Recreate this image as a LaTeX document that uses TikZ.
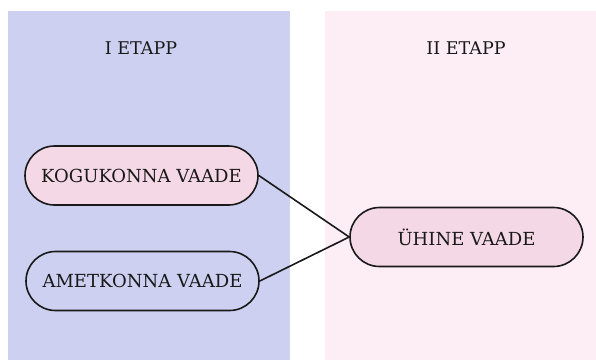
\documentclass[tikz,border=0pt]{standalone}
\usepackage{fontspec}
\setmainfont{DejaVu Serif}
\definecolor{lav}{HTML}{CDD0F0}
\definecolor{blush}{HTML}{FDEEF5}
\definecolor{pinkfill}{HTML}{F5D8E6}
\tikzset{
  title/.style={font=\fontsize{17.5}{20}\selectfont, text=black!90},
  pill/.style={draw=black!90, line width=1.6pt, rounded corners=29.5pt, minimum width=233pt, minimum height=59pt, inner sep=0pt, font=\fontsize{18}{21}\selectfont, text=black!90},
  link/.style={line width=1.6pt, draw=black!90}
}
\begin{document}
\begin{tikzpicture}[x=1pt,y=-1pt]
\useasboundingbox (0,0) rectangle (596,360);
\fill[white] (0,0) rectangle (596,360);
\fill[lav] (8,11) rectangle (290,360);
\fill[blush] (325,11) rectangle (596,360);
\node[title] (t1) at (141,48) {I ETAPP};
\node[title] (t2) at (466,48) {II ETAPP};
\node[pill, fill=pinkfill] (kog) at (141.5,175.5) {KOGUKONNA VAADE};
\node[pill] (amet) at (142.5,281) {AMETKONNA VAADE};
\node[pill, fill=pinkfill] (uhi) at (466.5,237) {ÜHINE VAADE};
\draw[link] (kog.east) -- (uhi.west);
\draw[link] (amet.east) -- (uhi.west);
\end{tikzpicture}
\end{document}
